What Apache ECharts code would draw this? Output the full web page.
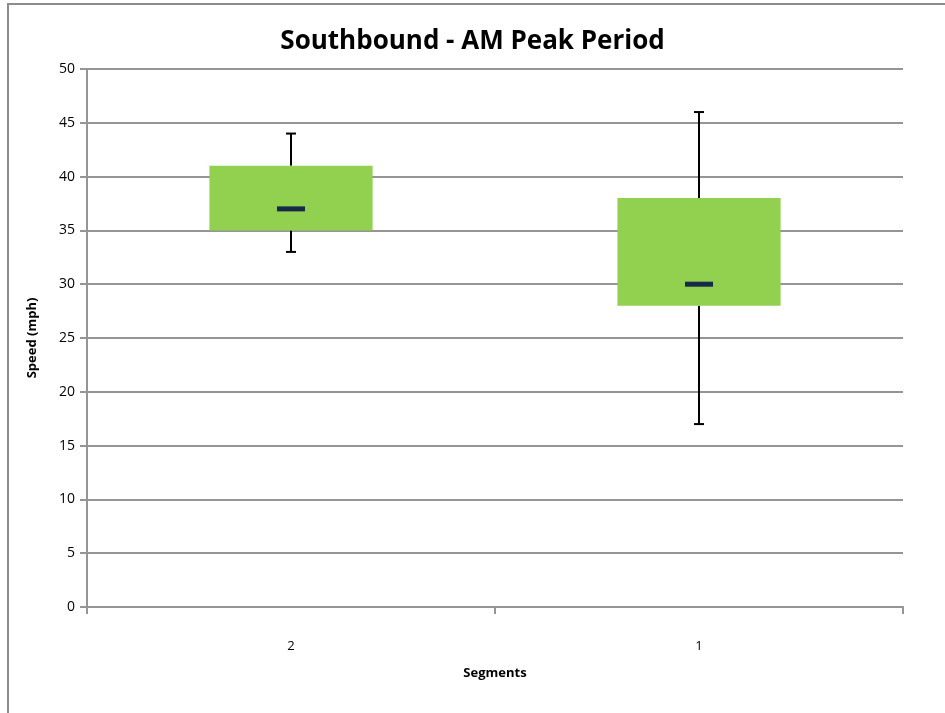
<!DOCTYPE html>
<html>
<head>
<meta charset="utf-8">
<script src="https://cdn.jsdelivr.net/npm/echarts@6/dist/echarts.min.js"></script>
<style>
	html, body { margin: 0; padding: 0; background: #fff; }
	#main { width: 945px; height: 713px; }
</style>
</head>
<body>
<div id="main"></div>
<script>
// segments as shown left to right
var segments = ['2', '1'];
var minValues = [33, 17];
var q1Values = [35, 28];
var medianValues = [37, 30];
var q3Values = [41, 38];
var maxValues = [44, 46];

var FONT = "'Open Sans', sans-serif";
var GRID_COLOR = '#959595';

var myChart = echarts.init(document.getElementById('main'));

var boxData = [];
for (var i = 0; i < segments.length; i++) {
	boxData.push([i, minValues[i], q1Values[i], medianValues[i], q3Values[i], maxValues[i]]);
}

function renderBox(params, api) {
	var idx = api.value(0);
	var pMin = api.coord([idx, api.value(1)]);
	var pQ1 = api.coord([idx, api.value(2)]);
	var pMed = api.coord([idx, api.value(3)]);
	var pQ3 = api.coord([idx, api.value(4)]);
	var pMax = api.coord([idx, api.value(5)]);
	var band = api.size([1, 0])[0];
	var halfW = band * 0.2;
	var cx = pMed[0];
	var lineStyle = { stroke: '#000', lineWidth: 2 };
	return {
		type: 'group',
		children: [
			{ type: 'line', shape: { x1: cx, y1: pMax[1], x2: cx, y2: pQ3[1] }, style: lineStyle },
			{ type: 'line', shape: { x1: cx - 5, y1: pMax[1], x2: cx + 5, y2: pMax[1] }, style: lineStyle },
			{ type: 'line', shape: { x1: cx, y1: pQ1[1], x2: cx, y2: pMin[1] }, style: lineStyle },
			{ type: 'line', shape: { x1: cx - 5, y1: pMin[1], x2: cx + 5, y2: pMin[1] }, style: lineStyle },
			{
				type: 'rect',
				shape: { x: cx - halfW, y: pQ3[1], width: halfW * 2, height: pQ1[1] - pQ3[1] },
				style: { fill: '#92d050' }
			},
			{
				type: 'rect',
				shape: { x: cx - 14, y: pMed[1] - 2.5, width: 28, height: 5 },
				style: { fill: '#172a48' }
			}
		]
	};
}

var option = {
	animation: false,
	title: {
		text: 'Southbound - AM Peak Period',
		left: 'center',
		top: 24,
		textStyle: { fontFamily: FONT, fontSize: 26, fontWeight: 'bold', color: '#000' }
	},
	graphic: [{
		type: 'rect',
		shape: { x: 8, y: 4, width: 1000, height: 1000 },
		style: { fill: 'none', stroke: '#8c8c8c', lineWidth: 2 },
		silent: true
	}],
	grid: { left: 87, right: 42, top: 69, bottom: 106 },
	xAxis: {
		type: 'category',
		data: segments,
		boundaryGap: true,
		name: 'Segments',
		nameLocation: 'middle',
		nameGap: 60,
		nameTextStyle: { fontFamily: FONT, fontSize: 13, fontWeight: 'bold', color: '#000' },
		axisLine: { lineStyle: { color: GRID_COLOR, width: 2 } },
		axisTick: { show: true, alignWithLabel: false, length: 7, lineStyle: { color: GRID_COLOR, width: 2 } },
		axisLabel: { fontFamily: FONT, fontSize: 13, color: '#000', margin: 33 }
	},
	yAxis: {
		type: 'value',
		min: 0,
		max: 50,
		interval: 5,
		name: 'Speed (mph)',
		nameLocation: 'middle',
		nameGap: 48,
		nameTextStyle: { fontFamily: FONT, fontSize: 13, fontWeight: 'bold', color: '#000' },
		axisLine: { show: true, lineStyle: { color: GRID_COLOR, width: 2 } },
		axisTick: { show: true, length: 7, lineStyle: { color: GRID_COLOR, width: 2 } },
		axisLabel: { fontFamily: FONT, fontSize: 14, color: '#000', margin: 12 },
		splitLine: { lineStyle: { color: GRID_COLOR, width: 2 } }
	},
	series: [{
		type: 'custom',
		renderItem: renderBox,
		encode: { x: 0, y: [1, 2, 3, 4, 5] },
		data: boxData
	}]
};
myChart.setOption(option);
</script>
</body>
</html>
